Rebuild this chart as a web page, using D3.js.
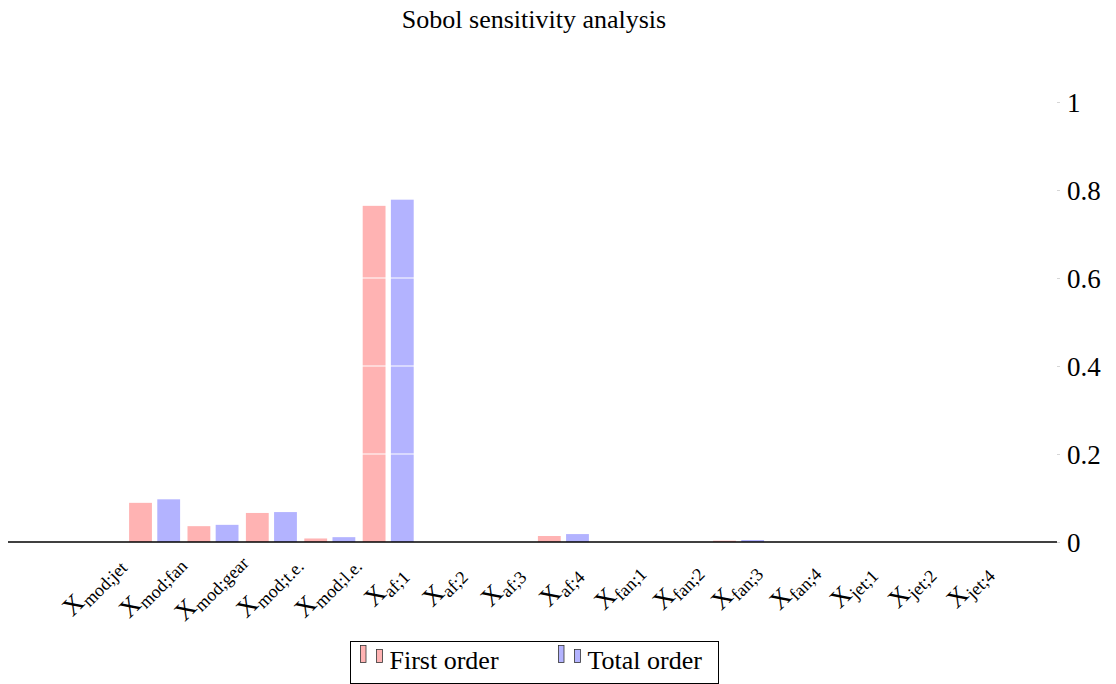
<!DOCTYPE html>
<html>
<head>
<meta charset="utf-8">
<script src="https://cdn.jsdelivr.net/npm/d3@7"></script>
<style>
  html, body { margin: 0; padding: 0; background: #fff; }
  svg { display: block; }
  svg text { font-family: "Liberation Serif", "DejaVu Serif", serif; }
</style>
</head>
<body>
<svg id="chart" width="1116" height="684"></svg>
<script>
// Input variables (subscripts of X) in plotting order
const categories = ["mod;jet", "mod;fan", "mod;gear", "mod;t.e.", "mod;l.e.",
                    "af;1", "af;2", "af;3", "af;4",
                    "fan;1", "fan;2", "fan;3", "fan;4",
                    "jet;1", "jet;2", "jet;4"];
// Sobol indices
const firstOrder = [0, 0.089, 0.036, 0.066, 0.008, 0.764, 0, 0, 0.0136, 0, 0, 0.003, 0, 0, 0, 0];
const totalOrder = [0, 0.097, 0.039, 0.068, 0.011, 0.778, 0, 0, 0.018, 0, 0, 0.0045, 0, 0, 0, 0];
const seriesNames = ["First order", "Total order"];
const seriesColors = ["#ffb3b3", "#b3b3ff"];
const yTicks = [0, 0.2, 0.4, 0.6, 0.8, 1];
const titleText = "Sobol sensitivity analysis";

const FONT = "'Liberation Serif', 'DejaVu Serif', serif";
const svg = d3.select("#chart");

const plot = { left: 8, right: 1057, top: 102, bottom: 542 };

const x = d3.scaleBand().domain(categories).range([67, 1001.4]).paddingInner(0).paddingOuter(0);
const xSub = d3.scaleBand().domain(seriesNames).range([-25.5, 25.5]).paddingInner(0.19);
const y = d3.scaleLinear().domain([0, 1]).range([plot.bottom, plot.top]);

// Title
svg.append("text")
  .attr("x", 534).attr("y", 28)
  .attr("text-anchor", "middle")
  .attr("font-family", FONT)
  .attr("font-size", 26)
  .attr("fill", "#000")
  .text(titleText);

// Bars
const series = [firstOrder, totalOrder];
const rows = categories.map((c, i) => ({ c, vals: series.map((s, k) => ({ k, v: s[i] })) }));
const groups = svg.append("g").selectAll("g")
  .data(rows).join("g")
  .attr("transform", d => `translate(${x(d.c) + x.bandwidth() / 2},0)`);
groups.selectAll("rect")
  .data(d => d.vals.filter(e => e.v > 0))
  .join("rect")
  .attr("x", e => xSub(seriesNames[e.k]))
  .attr("width", xSub.bandwidth())
  .attr("y", e => y(e.v))
  .attr("height", e => y(0) - y(e.v))
  .attr("fill", e => seriesColors[e.k]);

// White grid lines over the bars
svg.append("g").selectAll("line")
  .data(yTicks.filter(t => t > 0))
  .join("line")
  .attr("x1", plot.left).attr("x2", plot.right)
  .attr("y1", d => y(d)).attr("y2", d => y(d))
  .attr("stroke", "#fff").attr("stroke-width", 1);

// Baseline
svg.append("line")
  .attr("x1", plot.left).attr("x2", plot.right)
  .attr("y1", y(0)).attr("y2", y(0))
  .attr("stroke", "#000").attr("stroke-width", 1.4);

// Right y axis
const yAxis = d3.axisRight(y).tickValues(yTicks).tickSize(3).tickPadding(7)
  .tickFormat(d => d3.format("~g")(d));
const gy = svg.append("g").attr("transform", `translate(${plot.right},0)`).call(yAxis)
  .attr("font-family", FONT).attr("font-size", 27);
gy.select(".domain").remove();
gy.selectAll(".tick line").attr("stroke", "#bbb").attr("stroke-width", 0.6);
gy.selectAll(".tick text")
  .attr("fill", "#000")
  .attr("dy", "0.35em");

// Bottom axis labels: X with subscript, rotated 45°
const xAxis = d3.axisBottom(x).tickSize(0).tickPadding(0).tickFormat("");
const gx = svg.append("g").attr("transform", `translate(0,${y(0)})`).call(xAxis)
  .attr("font-family", FONT);
gx.select(".domain").remove();
gx.selectAll(".tick").each(function(d) {
  const t = d3.select(this).append("text")
    .attr("transform", "translate(0,47) rotate(-45)")
    .attr("text-anchor", "middle")
    .attr("dy", "0.35em")
    .attr("fill", "#000");
  t.append("tspan").attr("font-size", 26).text("X");
  t.append("tspan").attr("font-size", 18).attr("dy", 5).text(d);
});

// Legend
const legend = svg.append("g").attr("font-family", FONT);
legend.append("rect")
  .attr("x", 350.5).attr("y", 641.5).attr("width", 368).attr("height", 42)
  .attr("fill", "#fff").attr("stroke", "#000").attr("stroke-width", 1);
const legendX = [360, 558];
seriesNames.forEach((name, k) => {
  const g = legend.append("g").attr("transform", `translate(${legendX[k]},0)`);
  g.append("rect").attr("x", 0.5).attr("y", 645.5).attr("width", 5.5).attr("height", 17)
    .attr("fill", seriesColors[k]).attr("stroke", "#333").attr("stroke-width", 0.8);
  g.append("rect").attr("x", 16.5).attr("y", 649.5).attr("width", 6).attr("height", 13)
    .attr("fill", seriesColors[k]).attr("stroke", "#333").attr("stroke-width", 0.8);
  g.append("text").attr("x", 29.5).attr("y", 669)
    .attr("font-size", 26).attr("fill", "#000").text(name);
});
</script>
</body>
</html>
